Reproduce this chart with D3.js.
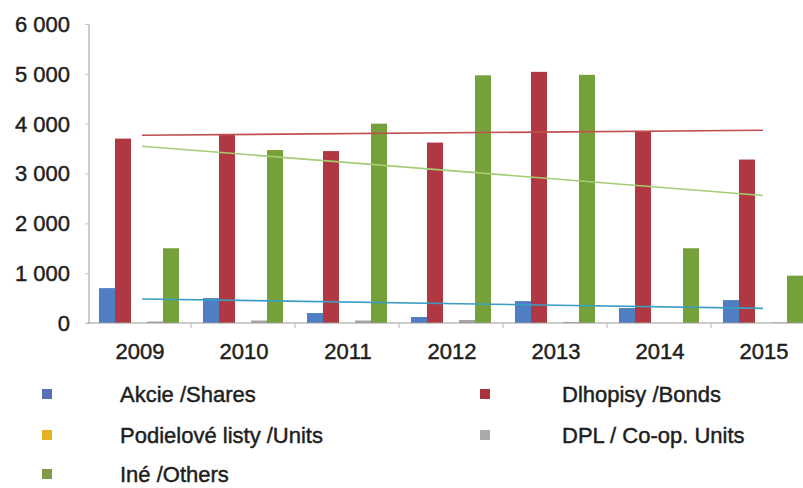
<!DOCTYPE html>
<html><head><meta charset="utf-8">
<script src="https://cdn.jsdelivr.net/npm/d3@7"></script>
<style>
html,body{margin:0;padding:0;background:#fff;}
svg{display:block;}
text{font-family:"Liberation Sans",Arial,sans-serif;fill:#1e1e1e;stroke:#1e1e1e;stroke-width:0.45px;}
</style></head>
<body>
<svg id="chart" width="803" height="488"></svg>
<script>
const years = ["2009","2010","2011","2012","2013","2014","2015"];
const seriesNames = ["Akcie /Shares","Dlhopisy /Bonds","Podielové listy /Units","DPL / Co-op. Units","Iné /Others"];
const shares = [700, 500, 200, 120, 440, 300, 460];
const bonds  = [3700, 3780, 3450, 3620, 5040, 3850, 3280];
const units  = [0, 0, 0, 0, 0, 0, 0];
const dpl    = [30, 50, 50, 60, 20, 0, 10];
const others = [1500, 3470, 4000, 4970, 4980, 1500, 950];
const yTicks = [0, 1000, 2000, 3000, 4000, 5000, 6000];
const yTickLabels = ["0", "1 000", "2 000", "3 000", "4 000", "5 000", "6 000"];

const seriesValues = [shares, bonds, units, dpl, others];
const barColors = ["#4f7fc2", "#b03842", "#e0b020", "#a5a5a5", "#75a03a"];
const legendColors = ["#5472b4", "#a8353d", "#e3b21e", "#aaaaaa", "#7f9a48"];
const trendColors = {0: "#3a9ec2", 1: "#c0504d", 4: "#a3cc74"};

const svg = d3.select("#chart");

const x = d3.scaleBand().domain(years).range([87, 815]).padding(0);
const xi = d3.scaleBand().domain(d3.range(5)).range([12, 92]).padding(0);
const y = d3.scaleLinear().domain([0, 6000]).range([323, 24]);

// y axis
const yAxis = d3.axisLeft(y).tickValues(yTicks).tickSize(4).tickFormat(() => "");
const gy = svg.append("g").attr("transform", "translate(89,0)").call(yAxis);
gy.select(".domain").attr("stroke", "#9a9a9a").attr("d", "M0," + y(6000) + "V" + y(0));
gy.selectAll(".tick line").attr("stroke", "#c8c8c8");

svg.append("g").selectAll("text").data(yTicks).join("text")
  .attr("x", 70).attr("y", d => y(d)).attr("dy", "0.36em")
  .attr("text-anchor", "end").style("font-size", "22px")
  .text((d, i) => yTickLabels[i]);

// bars
seriesValues.forEach((vals, s) => {
  svg.append("g").selectAll("rect").data(vals).join("rect")
    .attr("x", (d, i) => x(years[i]) + xi(s))
    .attr("width", xi.bandwidth())
    .attr("y", d => y(d))
    .attr("height", d => y(0) - y(d))
    .attr("fill", barColors[s]);
});

// x axis
const xAxis = d3.axisBottom(x).tickSize(0).tickFormat("");
const gx = svg.append("g").attr("transform", "translate(0," + y(0) + ")").call(xAxis);
gx.select(".domain").attr("stroke", "#9a9a9a").attr("d", "M87,0H815");
gx.selectAll(".tick").remove();
svg.append("g").selectAll("line").data(years.slice(1)).join("line")
  .attr("x1", d => x(d)).attr("x2", d => x(d))
  .attr("y1", y(0)).attr("y2", y(0) + 5)
  .attr("stroke", "#b0b0b0");

svg.append("g").selectAll("text").data(years).join("text")
  .attr("x", d => x(d) + x.bandwidth() / 2 + 1)
  .attr("y", 351).attr("dy", "0.36em")
  .attr("text-anchor", "middle").style("font-size", "22px")
  .text(d => d);

// linear trend lines (least squares on the plotted values)
[0, 1, 4].forEach(s => {
  const vals = seriesValues[s];
  const n = vals.length;
  const xs = d3.range(n);
  const mx = d3.mean(xs), my = d3.mean(vals);
  const slope = d3.sum(xs, i => (i - mx) * (vals[i] - my)) / d3.sum(xs, i => (i - mx) * (i - mx));
  const f = i => my + slope * (i - mx);
  svg.append("line")
    .attr("x1", x(years[0]) + x.bandwidth() / 2 + 3)
    .attr("x2", x(years[n - 1]) + x.bandwidth() / 2)
    .attr("y1", y(f(0))).attr("y2", y(f(n - 1)))
    .attr("stroke", trendColors[s]).attr("stroke-width", 1.6);
});

// legend
const legendPos = [
  {mx: 42, tx: 120, cy: 394},
  {mx: 480, tx: 562, cy: 394},
  {mx: 42, tx: 120, cy: 435},
  {mx: 480, tx: 562, cy: 435},
  {mx: 42, tx: 120, cy: 474}
];
const lg = svg.append("g");
seriesNames.forEach((name, s) => {
  const p = legendPos[s];
  lg.append("rect").attr("x", p.mx).attr("y", p.cy - 5).attr("width", 10).attr("height", 10)
    .attr("fill", legendColors[s]);
  lg.append("text").attr("x", p.tx).attr("y", p.cy).attr("dy", "0.36em")
    .style("font-size", "22px").text(name);
});
</script>
</body></html>
